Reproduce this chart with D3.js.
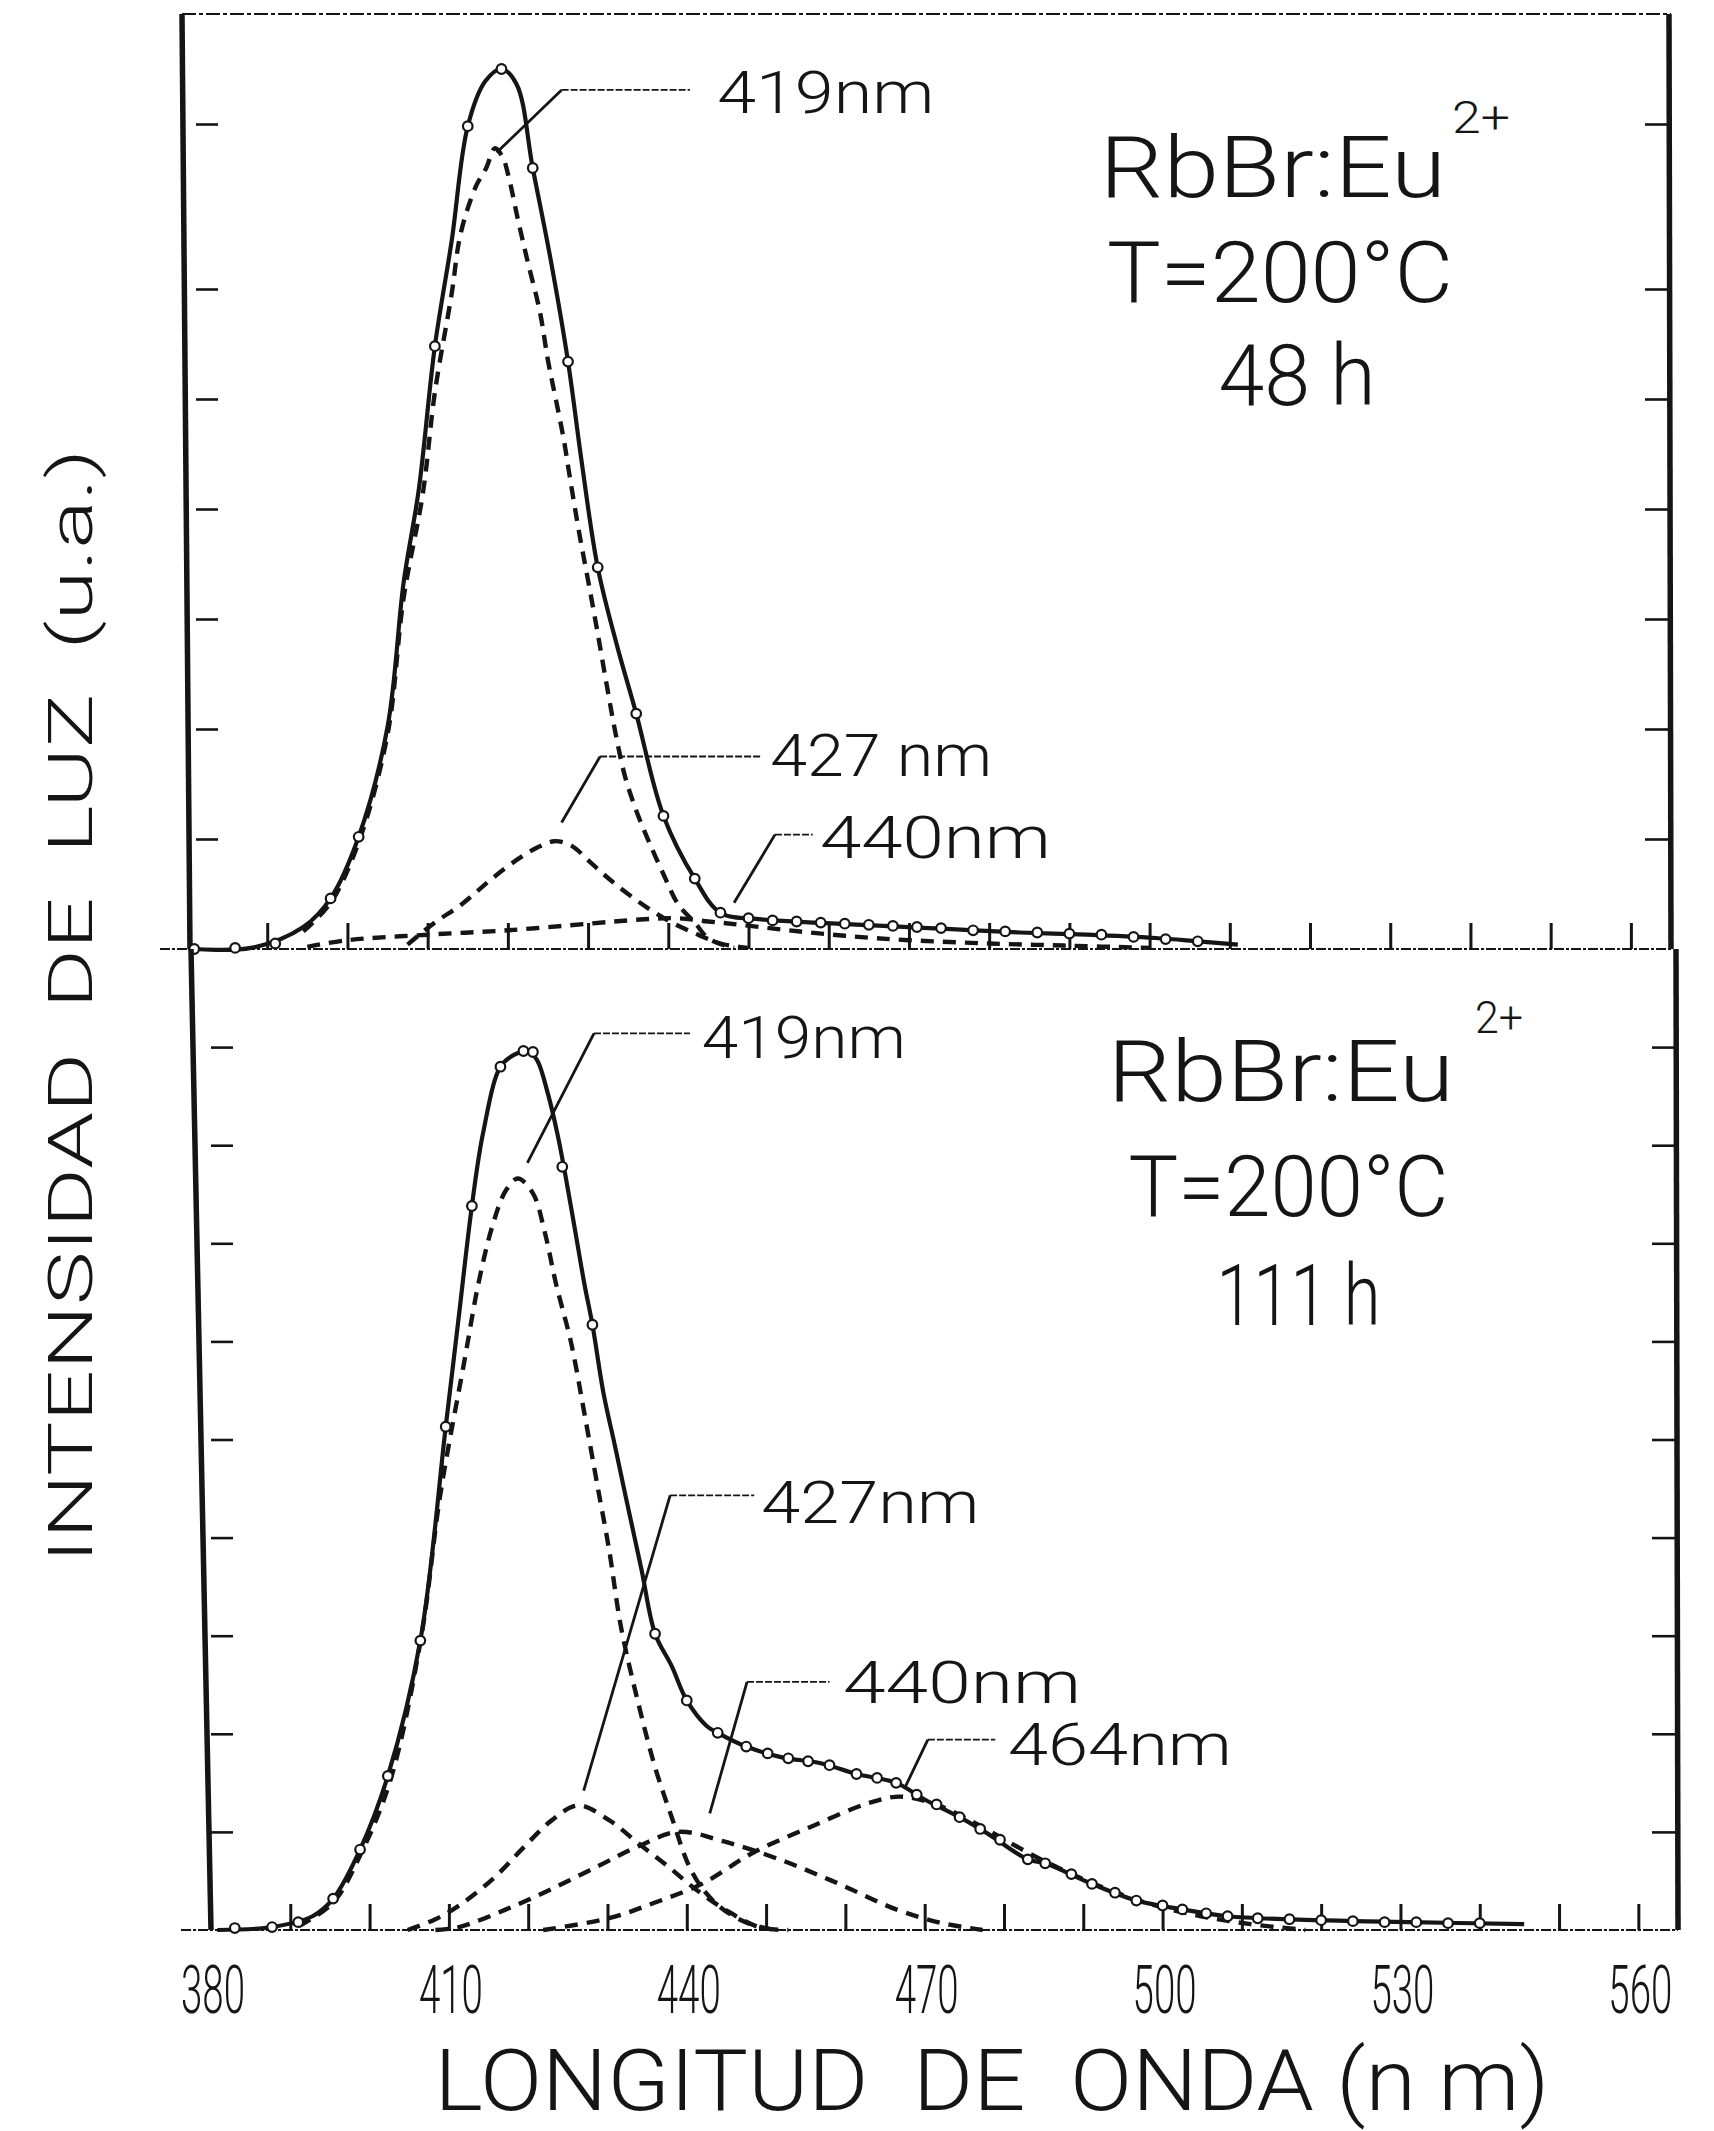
<!DOCTYPE html>
<html>
<head>
<meta charset="utf-8">
<script src="https://cdn.jsdelivr.net/npm/d3@7"></script>
<style>
  body { margin: 0; background: #fff; }
  svg { display: block; }
  text { font-family: Roboto, "DejaVu Sans", sans-serif; font-weight: 300; fill: #151515; white-space: pre; }
</style>
</head>
<body>
<svg id="chart" width="1714" height="2131"></svg>
<script>
// ---------------- DATA ----------------
const xTickLabels = [380, 410, 440, 470, 500, 530, 560];
const xMinorTicks = [390, 400, 410, 420, 430, 440, 450, 460, 470, 480, 490, 500, 510, 520, 530, 540, 550, 560];
const yTicksTop = [1, 2, 3, 4, 5, 6, 7.5];
const yTicksBottom = [1, 2, 3, 4, 5, 6, 7, 8, 9];

// Panel 1: RbBr:Eu2+, T = 200 °C, 48 h   [wavelength nm, intensity a.u.]
const top48Total = [
  [380.9,0],[388.0,0.01],[394.5,0.20],[397.9,0.46],[401.4,1.02],[405.0,2.02],[407.0,3.33],
  [408.9,4.18],[410.9,5.48],[413.0,6.44],[415.0,7.48],[417.2,7.89],[419.2,8.00],[421.1,7.86],
  [423.1,7.10],[425.3,6.28],[427.5,5.34],[429.2,4.43],[431.2,3.47],[433.6,2.76],[436.0,2.14],
  [439.4,1.21],[443.3,0.64],[446.5,0.33],[451.6,0.27],[458.4,0.24],[466.8,0.21],[475.3,0.18],
  [483.8,0.15],[492.2,0.13],[500.7,0.10],[506.0,0.07],[511.0,0.04]
];
const top48Points = [
  [380.9,0],[386,0.01],[391,0.05],[397.9,0.46],[401.4,1.02],[410.9,5.48],[415.0,7.48],[419.2,8.00],
  [423.1,7.10],[427.5,5.34],[431.2,3.47],[436.0,2.14],[439.4,1.21],[443.3,0.64],[446.5,0.33],
  [450,0.28],[453,0.26],[456,0.25],[459,0.24],[462,0.23],[465,0.22],[468,0.21],[471,0.20],
  [474,0.19],[478,0.17],[482,0.16],[486,0.15],[490,0.14],[494,0.13],[498,0.11],[502,0.09],[506,0.07]
];
const top48Band419 = [
  [394.5,0.16],[397.9,0.42],[401.4,0.97],[405.0,1.95],[407.0,3.19],[409.4,4.14],[410.9,5.06],
  [413.0,5.96],[414.1,6.50],[416.0,6.93],[417.3,7.10],[418.4,7.28],[419.4,7.19],[420.1,7.02],
  [421.2,6.65],[422.4,6.27],[424.0,5.79],[425.0,5.35],[426.0,4.99],[427.0,4.62],[427.7,4.30],
  [428.9,3.78],[429.9,3.39],[431.1,2.91],[432.3,2.41],[433.4,1.97],[434.6,1.57],[436.0,1.26],
  [437.5,0.99],[439.4,0.68],[441.2,0.41],[443.3,0.24],[445.1,0.09],[448.2,0.01]
];
const top48Band427 = [
  [407.5,0.04],[410.7,0.23],[414.3,0.41],[417.7,0.62],[421.1,0.81],[423.6,0.92],[425.8,0.98],
  [427.9,0.94],[430.4,0.78],[432.9,0.62],[436.3,0.43],[439.7,0.27],[443.1,0.15],[446.5,0.05],[449.9,0.01]
];
const top48Band440 = [
  [395,0.02],[400,0.08],[410,0.13],[420,0.17],[430,0.23],[437,0.27],[441,0.28],[445,0.25],
  [449,0.22],[455,0.17],[462,0.12],[470,0.08],[480,0.05],[490,0.03],[500,0.01]
];

// Panel 2: RbBr:Eu2+, T = 200 °C, 111 h
const bot111Total = [
  [380.8,0],[387.7,0.03],[392.8,0.14],[395.4,0.32],[398.8,0.82],[402.3,1.57],[406.4,2.95],
  [409.6,5.13],[411.2,6.22],[412.9,7.38],[414.3,8.12],[416.5,8.80],[418.2,8.92],[419.9,8.96],
  [421.1,8.87],[422.5,8.52],[423.7,8.11],[424.7,7.69],[425.9,7.14],[427.1,6.58],[428.1,6.17],
  [429.5,5.47],[430.9,4.95],[432.4,4.38],[434.3,3.67],[436.0,3.02],[438.1,2.69],[440.0,2.34],
  [442.5,2.08],[443.9,2.01],[447.5,1.87],[452.0,1.76],[456.9,1.70],[461.4,1.59],[466.4,1.50],
  [470.0,1.33],[474.4,1.15],[478.0,0.98],[483.0,0.72],[485.2,0.68],[491.1,0.47],[496.7,0.30],
  [502.5,0.21],[508.2,0.14],[519.7,0.10],[531.2,0.08],[545.6,0.06]
];
const bot111Points = [
  [383,0.02],[387.7,0.03],[391,0.08],[395.4,0.32],[398.8,0.82],[402.3,1.57],[406.4,2.95],
  [409.6,5.13],[412.9,7.38],[416.5,8.80],[419.4,8.96],[420.6,8.95],[424.3,7.78],[428.1,6.17],
  [436.0,3.02],[440.0,2.34],[443.9,2.01],[447.5,1.87],[450.2,1.80],[452.8,1.75],[455.3,1.72],
  [458.0,1.68],[461.4,1.59],[464.0,1.55],[466.4,1.50],[469.0,1.38],[471.5,1.28],[474.4,1.15],
  [477.0,1.03],[479.5,0.92],[483.0,0.72],[485.2,0.68],[488.5,0.57],[491.1,0.47],[494.0,0.38],
  [496.7,0.30],[500.0,0.25],[502.5,0.21],[505.5,0.17],[508.2,0.14],[512,0.12],[516,0.11],
  [520,0.10],[524,0.09],[528,0.08],[532,0.08],[536,0.07],[540,0.07]
];
const bot111Band419 = [
  [391.1,0.04],[395.4,0.28],[398.8,0.76],[402.6,1.52],[406.5,2.98],[408.9,4.43],[412.0,5.82],
  [413.7,6.58],[415.5,7.18],[417.2,7.54],[418.7,7.66],[420.6,7.51],[422.1,7.11],[423.5,6.59],
  [425.4,5.99],[427.1,5.26],[428.8,4.50],[430.2,3.88],[431.7,3.09],[433.8,2.34],[436.0,1.66],
  [438.1,1.15],[440.3,0.65],[442.2,0.40],[444.6,0.21],[447.7,0.07],[451.1,0.00]
];
const bot111Band427 = [
  [404.8,0],[408.3,0.11],[411.3,0.25],[415.8,0.54],[419.4,0.84],[423.0,1.12],[426.3,1.27],
  [430.2,1.12],[433.8,0.89],[437.6,0.65],[441.2,0.41],[444.8,0.21],[449.1,0.03],[452.8,0]
];
const bot111Band440 = [
  [408.3,0],[411.3,0.03],[417.2,0.21],[423.0,0.42],[428.8,0.65],[433.8,0.85],[438.9,1.00],
  [444.8,0.90],[452.0,0.71],[459.2,0.47],[466.4,0.21],[472.2,0.07],[477.3,0]
];
const bot111Band464 = [
  [421.9,0],[430.2,0.12],[436.0,0.28],[441.9,0.47],[448.4,0.79],[455.6,1.05],[462.8,1.29],
  [466.9,1.36],[471.7,1.27],[476.8,1.07],[483.7,0.76],[490.5,0.50],[497.4,0.29],[504.3,0.15],
  [511.1,0.06],[518.0,0]
];

// Peak labels: leader path (data coords) and label anchor (data coords)
const top48PeakLabels = [
  { text: "419nm",  path: [[418.6,7.24],[426.7,7.81],[442.7,7.81]], at: [446.1,7.60] },
  { text: "427 nm", path: [[426.7,1.15],[431.5,1.75],[451.6,1.75]], at: [452.7,1.57] },
  { text: "440nm",  path: [[448.2,0.42],[453.3,1.04],[458.0,1.04]], at: [458.9,0.83] }
];
const bot111PeakLabels = [
  { text: "419nm", path: [[419.9,7.82],[428.3,9.14],[440.4,9.14]], at: [441.9,8.89] },
  { text: "427nm", path: [[427.0,1.42],[437.9,4.43],[448.5,4.43]], at: [449.4,4.15] },
  { text: "440nm", path: [[442.9,1.19],[447.6,2.53],[458.0,2.53]], at: [459.7,2.31] },
  { text: "464nm", path: [[467.5,1.45],[470.4,1.94],[478.9,1.94]], at: [480.5,1.68] }
];
const top48Info = [
  { text: "RbBr:Eu", at: [493.8,6.84] }, { text: "2+", at: [537.7,7.42], sup: true },
  { text: "T=200°C", at: [494.7,5.88] }, { text: "48 h", at: [508.6,4.95] }
];
const bot111Info = [
  { text: "RbBr:Eu", at: [493.1,8.45] }, { text: "2+", at: [539.4,9.14], sup: true },
  { text: "T=200°C", at: [495.7,7.28] }, { text: "111 h", at: [506.8,6.17] }
];

// ---------------- LAYOUT / STYLE ----------------
const svg = d3.select("#chart");
const INK = "#151515";
const labelWidths = {
  top: { "419nm": 217, "427 nm": 222, "440nm": 231, "RbBr:Eu": 346, "2+": 58, "T=200°C": 346, "48 h": 157 },
  bottom: { "419nm": 204, "427nm": 218, "440nm": 238, "464nm": 224, "RbBr:Eu": 346, "2+": 48, "T=200°C": 320, "111 h": 164 }
};

const panels = [
  { key: "top", xr: [187, 1671], yr: [949, 14], ymax: 8.5, skew: [-5, 3], ticks: yTicksTop,
    total: top48Total, points: top48Points, bands: [top48Band419, top48Band427, top48Band440],
    peaks: top48PeakLabels, info: top48Info, border: true },
  { key: "bottom", xr: [211, 1678], yr: [1930, 949], ymax: 10, skew: [-20, 0], ticks: yTicksBottom,
    total: bot111Total, points: bot111Points, bands: [bot111Band419, bot111Band427, bot111Band440, bot111Band464],
    peaks: bot111PeakLabels, info: bot111Info, border: false }
];

let bottomX = null;

panels.forEach(p => {
  const x = d3.scaleLinear().domain([380, 565]).range(p.xr);
  const y = d3.scaleLinear().domain([0, p.ymax]).range(p.yr);
  if (p.key === "bottom") bottomX = x;
  const g = svg.append("g");
  const yBase = p.yr[0], yTop = p.yr[1];

  // frame
  if (p.border) {
    g.append("line").attr("x1", p.xr[0] + p.skew[0]).attr("x2", p.xr[1])
      .attr("y1", yTop).attr("y2", yTop)
      .attr("stroke", INK).attr("stroke-width", 2).attr("stroke-dasharray", "14,3,4,3");
  }
  g.append("line").attr("x1", p.xr[0] + p.skew[0]).attr("y1", yTop)
    .attr("x2", p.xr[0] + p.skew[1]).attr("y2", yBase)
    .attr("stroke", INK).attr("stroke-width", 5.5);
  g.append("line").attr("x1", p.xr[1] - 2).attr("y1", yTop)
    .attr("x2", p.xr[1]).attr("y2", yBase)
    .attr("stroke", INK).attr("stroke-width", 5.5);
  g.append("line").attr("x1", p.xr[0] + p.skew[1] - 30).attr("x2", p.xr[1])
    .attr("y1", yBase).attr("y2", yBase)
    .attr("stroke", INK).attr("stroke-width", 2.2).attr("stroke-dasharray", "10,2,3,2");

  // x ticks (inward) via d3 axis
  const xAxis = d3.axisBottom(x).tickValues(xMinorTicks).tickSizeInner(-26).tickSizeOuter(0).tickFormat(() => "");
  const gx = g.append("g").attr("transform", `translate(0,${yBase})`).call(xAxis);
  gx.select(".domain").remove();
  gx.selectAll(".tick line").attr("stroke", INK).attr("stroke-width", 3);

  // y ticks left (detached) and right
  const yl = d3.axisLeft(y).tickValues(p.ticks).tickSizeInner(-22).tickSizeOuter(0).tickFormat(() => "");
  const gyl = g.append("g").attr("transform", `translate(${p.xr[0] + (p.skew[0] + p.skew[1]) / 2 + 10},0)`).call(yl);
  gyl.select(".domain").remove();
  gyl.selectAll(".tick line").attr("stroke", INK).attr("stroke-width", 2.6);
  const yr = d3.axisRight(y).tickValues(p.ticks).tickSizeInner(-24).tickSizeOuter(0).tickFormat(() => "");
  const gyr = g.append("g").attr("transform", `translate(${p.xr[1] - 2},0)`).call(yr);
  gyr.select(".domain").remove();
  gyr.selectAll(".tick line").attr("stroke", INK).attr("stroke-width", 2.6);

  const line = d3.line().x(d => x(d[0])).y(d => y(d[1])).curve(d3.curveCatmullRom.alpha(0.5));

  // gaussian components (dashed)
  p.bands.forEach(b => {
    g.append("path").attr("d", line(b)).attr("fill", "none").attr("stroke", INK)
      .attr("stroke-width", 4.4).attr("stroke-dasharray", "13,9").attr("stroke-linecap", "butt");
  });
  // measured spectrum (solid)
  g.append("path").attr("d", line(p.total)).attr("fill", "none").attr("stroke", INK)
    .attr("stroke-width", 4.2).attr("stroke-linejoin", "round");
  g.selectAll("circle.pt").data(p.points).join("circle").attr("class", "pt")
    .attr("cx", d => x(d[0])).attr("cy", d => y(d[1])).attr("r", 4.8)
    .attr("fill", "#fff").attr("stroke", INK).attr("stroke-width", 2.2);

  // peak labels
  const lead = d3.line().x(d => x(d[0])).y(d => y(d[1]));
  p.peaks.forEach(pk => {
    g.append("path").attr("d", lead(pk.path.slice(0, 2))).attr("fill", "none")
      .attr("stroke", INK).attr("stroke-width", 2.8);
    g.append("path").attr("d", lead(pk.path.slice(1))).attr("fill", "none")
      .attr("stroke", INK).attr("stroke-width", 1.8).attr("stroke-dasharray", "7,2");
    g.append("text").attr("x", x(pk.at[0])).attr("y", y(pk.at[1]))
      .attr("font-size", 59).attr("textLength", labelWidths[p.key][pk.text])
      .attr("lengthAdjust", "spacingAndGlyphs").text(pk.text);
  });

  // sample info
  p.info.forEach(t => {
    g.append("text").attr("x", x(t.at[0])).attr("y", y(t.at[1]))
      .attr("font-size", t.sup ? 44 : 86).attr("textLength", labelWidths[p.key][t.text])
      .attr("lengthAdjust", "spacingAndGlyphs").text(t.text);
  });
});

// x tick labels under the bottom panel
svg.append("g").selectAll("text").data(xTickLabels).join("text")
  .attr("x", d => bottomX(d) + 2).attr("y", 2013)
  .attr("text-anchor", "middle").attr("font-size", 67)
  .attr("textLength", 64).attr("lengthAdjust", "spacingAndGlyphs")
  .text(d => d);

// axis titles
svg.append("text").attr("x", 992).attr("y", 2110).attr("text-anchor", "middle")
  .attr("font-size", 86).attr("textLength", 1115).attr("lengthAdjust", "spacingAndGlyphs")
  .text("LONGITUD  DE  ONDA (n m)");
svg.append("text").attr("transform", "translate(92,1006) rotate(-90)").attr("text-anchor", "middle")
  .attr("font-size", 62).attr("textLength", 1114).attr("lengthAdjust", "spacingAndGlyphs")
  .text("INTENSIDAD  DE  LUZ  (u.a.)");
</script>
</body>
</html>
